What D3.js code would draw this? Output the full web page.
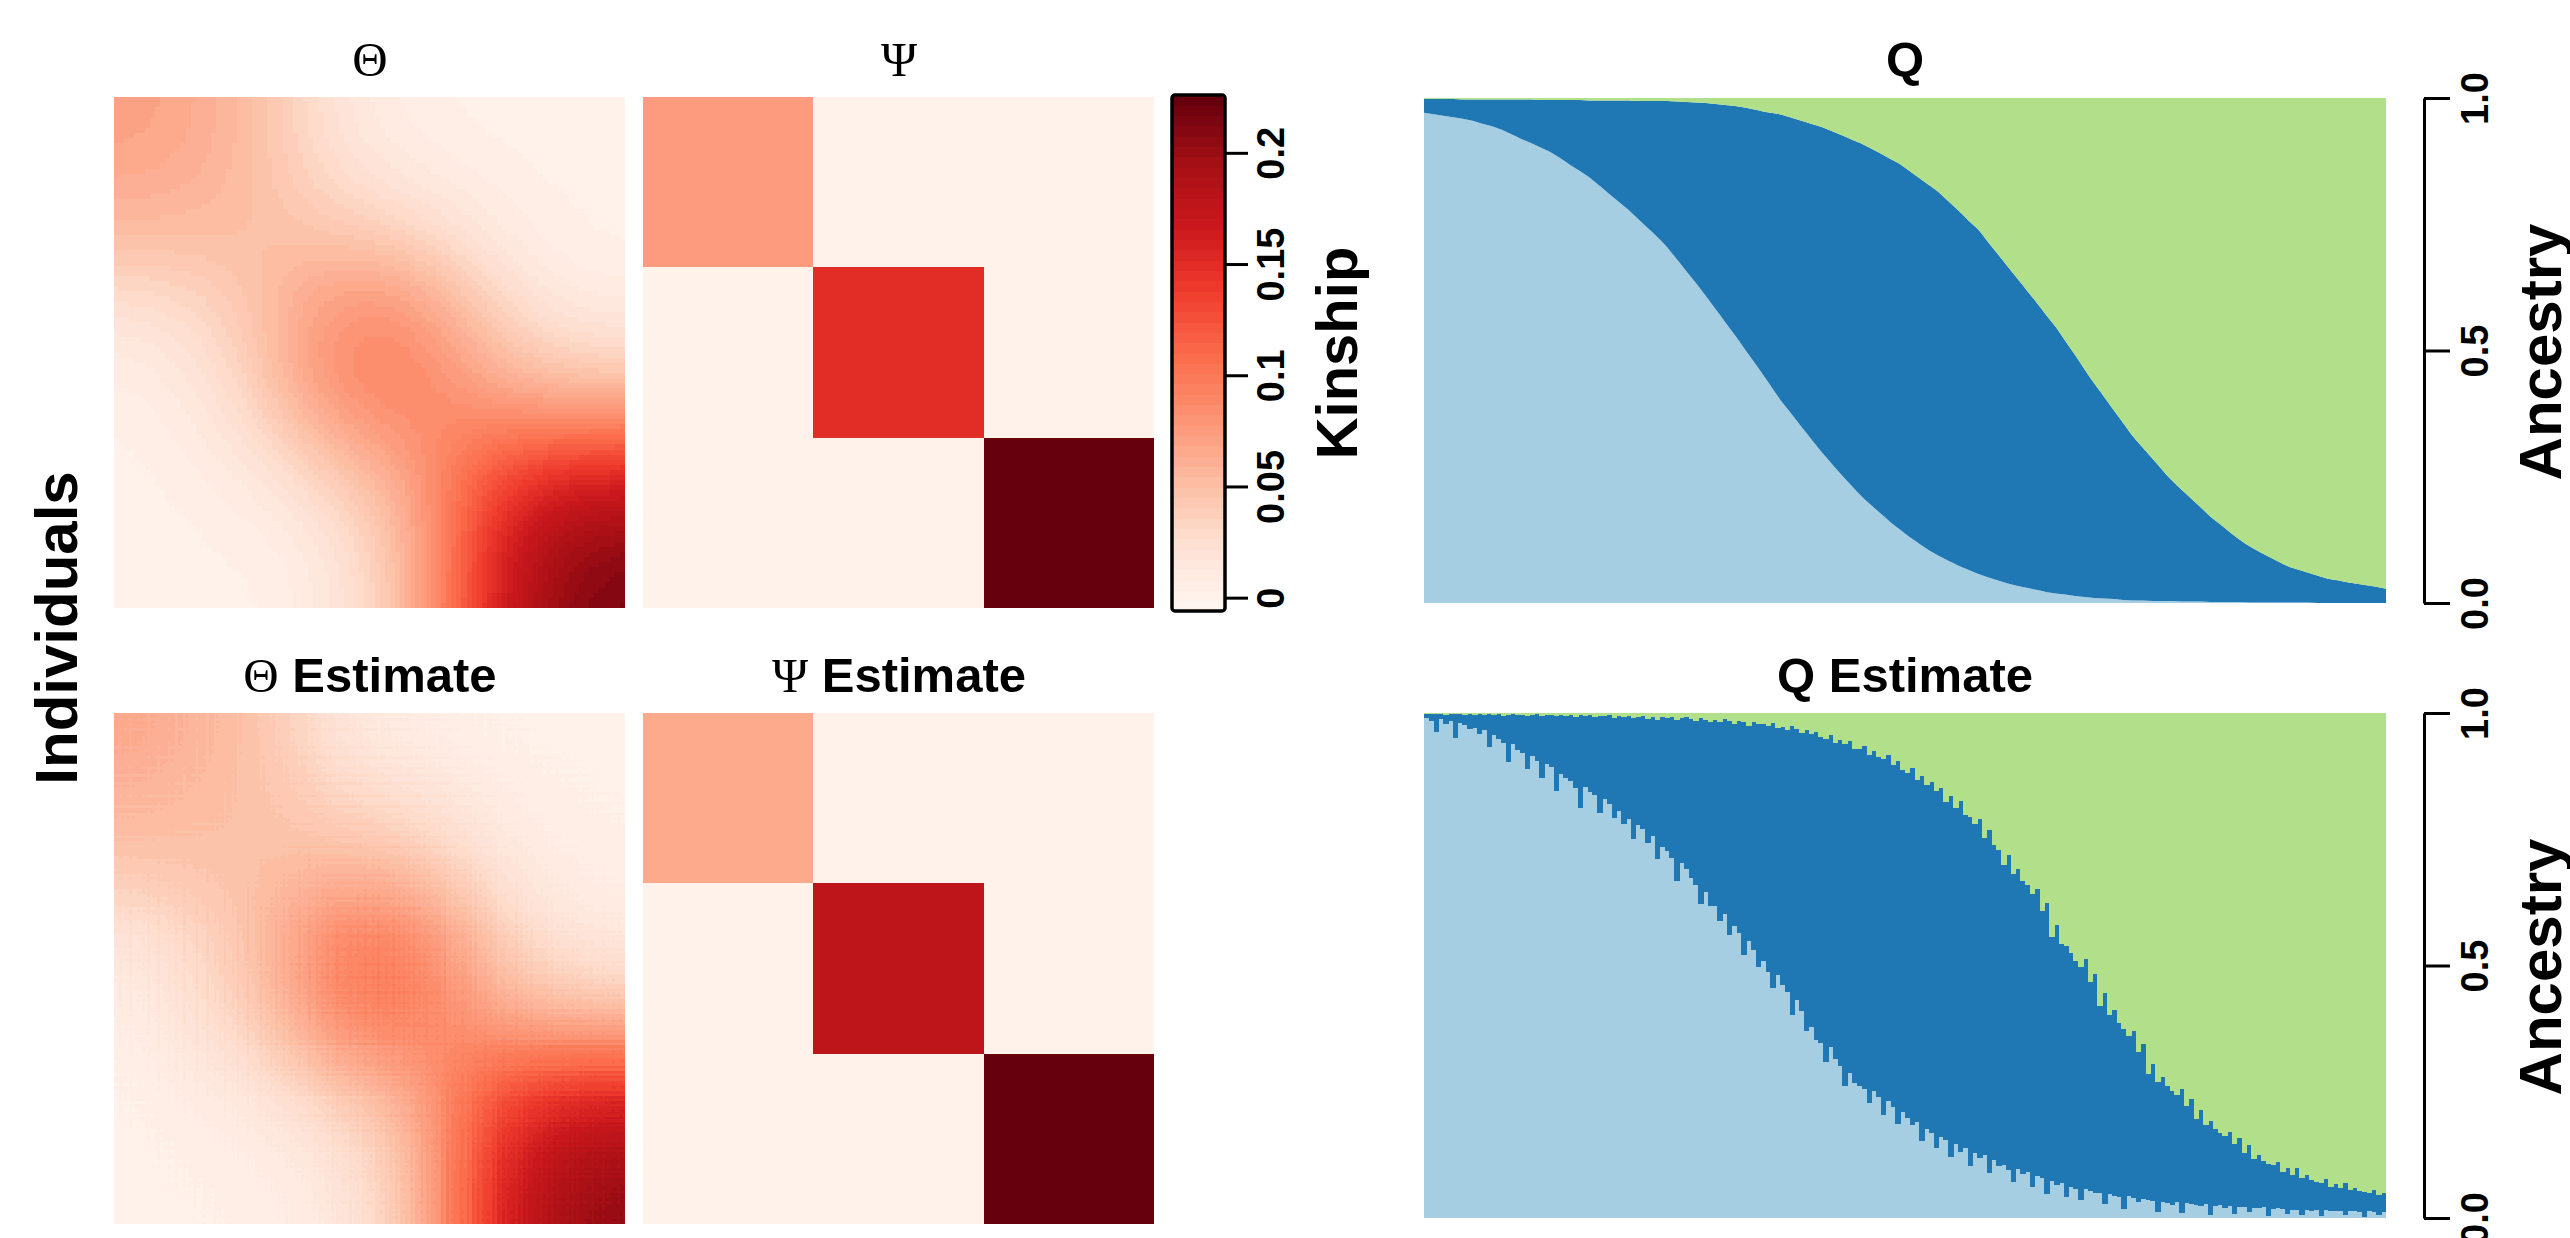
<!DOCTYPE html>
<html>
<head>
<meta charset="utf-8">
<script src="https://cdn.jsdelivr.net/npm/d3@7"></script>
<style>
body { margin: 0; background: #fff; }
text { font-family: "Liberation Sans", Arial, sans-serif; font-weight: bold; fill: #000; }
</style>
</head>
<body>
<div id="vis"></div>
<script>
var width = 2570, height = 1238;

// true admixture: top edge of ancestry 1, and of ancestry 1+2 (100 individuals)
var q1True = [0.971,0.968,0.965,0.962,0.959,0.955,0.949,0.944,0.937,0.928,
  0.919,0.911,0.902,0.893,0.881,0.868,0.856,0.843,0.827,0.811,
  0.795,0.779,0.761,0.743,0.725,0.705,0.681,0.657,0.633,0.608,
  0.582,0.556,0.530,0.503,0.476,0.449,0.421,0.394,0.370,0.345,
  0.321,0.297,0.275,0.253,0.232,0.212,0.194,0.177,0.160,0.145,
  0.130,0.117,0.104,0.093,0.083,0.074,0.066,0.058,0.051,0.045,
  0.039,0.034,0.030,0.026,0.022,0.019,0.017,0.014,0.012,0.010,
  0.009,0.008,0.006,0.005,0.005,0.004,0.004,0.004,0.003,0.003,
  0.003,0.002,0.002,0.002,0.002,0.001,0.001,0.001,0.001,0.001,
  0.001,0.001,0,0,0,0,0,0,0,0];
var q12True = [0.998,0.998,0.998,0.998,0.997,0.997,0.997,0.997,0.997,0.997,
  0.997,0.997,0.996,0.996,0.996,0.996,0.996,0.995,0.995,0.995,
  0.995,0.995,0.994,0.994,0.994,0.994,0.993,0.992,0.991,0.990,
  0.988,0.986,0.984,0.981,0.977,0.973,0.970,0.966,0.960,0.954,
  0.948,0.942,0.934,0.926,0.918,0.910,0.900,0.890,0.879,0.869,
  0.855,0.841,0.827,0.813,0.795,0.777,0.758,0.740,0.716,0.692,
  0.668,0.644,0.620,0.596,0.571,0.547,0.519,0.491,0.462,0.434,
  0.408,0.381,0.355,0.329,0.307,0.285,0.263,0.242,0.224,0.206,
  0.188,0.170,0.155,0.139,0.125,0.112,0.101,0.091,0.081,0.072,
  0.066,0.060,0.054,0.048,0.045,0.041,0.038,0.035,0.032,0.028];

// estimated admixture (200 individuals)
var q1Est = [0.991,0.985,0.962,0.988,0.979,0.984,0.951,0.980,0.976,0.968,
  0.970,0.958,0.966,0.932,0.957,0.949,0.941,0.903,0.938,0.926,
  0.921,0.889,0.914,0.905,0.872,0.899,0.893,0.846,0.880,0.871,
  0.866,0.851,0.812,0.853,0.844,0.838,0.801,0.829,0.820,0.792,
  0.806,0.781,0.790,0.751,0.778,0.770,0.742,0.756,0.711,0.735,
  0.726,0.712,0.668,0.702,0.691,0.673,0.659,0.622,0.645,0.618,
  0.617,0.588,0.601,0.560,0.579,0.565,0.521,0.549,0.530,0.497,
  0.508,0.488,0.455,0.482,0.461,0.447,0.402,0.431,0.410,0.371,
  0.378,0.352,0.347,0.309,0.338,0.314,0.301,0.262,0.287,0.268,
  0.262,0.255,0.228,0.251,0.239,0.204,0.232,0.219,0.187,0.210,
  0.199,0.184,0.191,0.152,0.176,0.168,0.139,0.161,0.154,0.121,
  0.146,0.131,0.138,0.103,0.129,0.118,0.124,0.089,0.114,0.102,
  0.104,0.096,0.071,0.098,0.087,0.091,0.062,0.084,0.079,0.048,
  0.073,0.066,0.069,0.041,0.062,0.058,0.035,0.057,0.053,0.049,
  0.050,0.027,0.047,0.044,0.041,0.018,0.043,0.039,0.031,0.037,
  0.035,0.033,0.012,0.031,0.030,0.026,0.032,0.009,0.029,0.027,
  0.026,0.024,0.027,0.006,0.023,0.025,0.019,0.024,0.008,0.022,
  0.021,0.011,0.020,0.019,0.021,0.004,0.018,0.019,0.017,0.007,
  0.016,0.015,0.005,0.016,0.014,0.015,0.003,0.015,0.013,0.014,
  0.014,0.006,0.013,0.014,0.012,0.002,0.013,0.012,0.005,0.012];
var q12Est = [0.999,0.998,0.998,0.999,0.997,0.999,0.998,0.998,0.997,0.998,
  0.997,0.998,0.996,0.998,0.997,0.998,0.995,0.997,0.998,0.996,
  0.997,0.995,0.997,0.998,0.994,0.996,0.997,0.995,0.997,0.994,
  0.996,0.993,0.996,0.995,0.997,0.992,0.995,0.994,0.996,0.991,
  0.994,0.992,0.995,0.990,0.993,0.994,0.989,0.993,0.987,0.992,
  0.991,0.993,0.986,0.990,0.992,0.988,0.984,0.990,0.987,0.983,
  0.987,0.982,0.988,0.985,0.978,0.984,0.982,0.975,0.983,0.979,
  0.978,0.975,0.980,0.970,0.973,0.966,0.974,0.969,0.960,0.966,
  0.958,0.963,0.952,0.949,0.956,0.941,0.946,0.938,0.944,0.929,
  0.929,0.935,0.917,0.924,0.913,0.908,0.916,0.897,0.904,0.888,
  0.882,0.891,0.868,0.876,0.858,0.863,0.845,0.851,0.824,0.836,
  0.812,0.826,0.799,0.794,0.781,0.790,0.752,0.768,0.738,0.729,
  0.700,0.719,0.681,0.692,0.668,0.659,0.641,0.652,0.608,0.624,
  0.556,0.581,0.543,0.538,0.525,0.509,0.498,0.512,0.468,0.483,
  0.420,0.445,0.401,0.412,0.386,0.374,0.361,0.370,0.328,0.345,
  0.286,0.304,0.270,0.279,0.262,0.251,0.243,0.255,0.221,0.235,
  0.197,0.214,0.185,0.192,0.176,0.168,0.163,0.171,0.146,0.158,
  0.128,0.144,0.117,0.125,0.112,0.106,0.104,0.111,0.091,0.099,
  0.086,0.099,0.079,0.085,0.075,0.071,0.070,0.077,0.062,0.068,
  0.060,0.070,0.055,0.059,0.054,0.051,0.050,0.056,0.045,0.049];

// intermediate population kinship (diagonal of Psi)
var psiTrue = [0.075, 0.15, 0.225];
var psiEst = [0.068, 0.179, 0.224];

var kinshipRange = [-0.006, 0.226];
var kinshipTicks = [0, 0.05, 0.1, 0.15, 0.2];
var ancestryTicks = [0, 0.5, 1];
var ancestryColors = ["#a6cee3", "#1f78b4", "#b2df8a"];

var nCol = 50;
var ramp = d3.piecewise(d3.interpolateRgb, d3.schemeReds[9]);
var color = d3.scaleQuantize()
    .domain(kinshipRange)
    .range(d3.range(nCol).map(function(k) { return ramp(k / (nCol - 1)); }));

var svg = d3.select("#vis").append("svg")
    .attr("width", width)
    .attr("height", height);

function toQ(top1, top12) {
  return top1.map(function(d, i) { return [d, top12[i] - d, 1 - top12[i]]; });
}

function kinshipMatrix(q, psi) {
  return q.map(function(a) {
    return q.map(function(b) {
      return d3.sum(psi, function(p, k) { return a[k] * b[k] * p; });
    });
  });
}

function psiMatrix(psi) {
  return psi.map(function(p, i) {
    return psi.map(function(r, j) { return i === j ? p : 0; });
  });
}

// heatmap, merging runs of equal colour within a row
function drawHeat(mat, x0, y0, size) {
  var n = mat.length;
  var band = d3.scaleBand().domain(d3.range(n)).range([0, size]);
  var runs = [];
  mat.forEach(function(row, i) {
    var start = 0;
    for (var j = 1; j <= n; j++) {
      if (j === n || color(row[j]) !== color(row[start])) {
        runs.push({i: i, j0: start, j1: j - 1, c: color(row[start])});
        start = j;
      }
    }
  });
  var g = svg.append("g")
      .attr("transform", "translate(" + x0 + "," + y0 + ")")
      .attr("shape-rendering", "crispEdges");
  g.selectAll("rect")
    .data(runs)
    .enter().append("rect")
      .attr("x", function(d) { return band(d.j0); })
      .attr("y", function(d) { return band(d.i); })
      .attr("width", function(d) {
        var w = band(d.j1) + band.bandwidth() - band(d.j0);
        return d.j1 === n - 1 ? w : w + 0.6;
      })
      .attr("height", function(d) { return d.i === n - 1 ? band.bandwidth() : band.bandwidth() + 0.6; })
      .attr("fill", function(d) { return d.c; });
}

var qTrue = toQ(q1True, q12True);
var qEst = toQ(q1Est, q12Est);

drawHeat(kinshipMatrix(qTrue, psiTrue), 114, 97, 511);
drawHeat(psiMatrix(psiTrue), 643, 97, 511);
drawHeat(kinshipMatrix(qEst, psiEst), 114, 713, 511);
drawHeat(psiMatrix(psiEst), 643, 713, 511);

// colour key
var yKey = d3.scaleLinear().domain(kinshipRange).range([611, 95]);
var edges = [kinshipRange[0]].concat(color.thresholds(), [kinshipRange[1]]);
svg.append("g").attr("shape-rendering", "crispEdges").selectAll("rect")
  .data(d3.range(nCol))
  .enter().append("rect")
    .attr("x", 1172)
    .attr("width", 53)
    .attr("y", function(k) { return yKey(edges[k + 1]); })
    .attr("height", function(k) { return yKey(edges[k]) - yKey(edges[k + 1]) + 0.5; })
    .attr("fill", function(k) { return color.range()[k]; });
svg.append("rect")
    .attr("x", 1172).attr("y", 95).attr("width", 53).attr("height", 516)
    .attr("rx", 3)
    .attr("fill", "none").attr("stroke", "#000").attr("stroke-width", 3.5);

var keyAxis = svg.append("g")
    .attr("transform", "translate(1225,0)")
    .call(d3.axisRight(yKey).tickValues(kinshipTicks).tickSize(23).tickSizeOuter(0)
      .tickFormat(function(d) { return String(d); }));
keyAxis.select(".domain").remove();
keyAxis.selectAll("line").attr("stroke", "#000").attr("stroke-width", 3);
keyAxis.selectAll("text")
    .attr("x", null).attr("dy", null)
    .attr("transform", "translate(59,0) rotate(-90)")
    .attr("text-anchor", "middle")
    .style("font-size", "38px");

svg.append("text")
    .attr("transform", "translate(1357,353) rotate(-90)")
    .attr("text-anchor", "middle")
    .style("font-size", "58px")
    .text("Kinship");

// admixture plots
var xPoint = d3.scalePoint().domain(d3.range(qTrue.length)).range([1424, 2386]);
var xBand = d3.scaleBand().domain(d3.range(qEst.length)).range([1424, 2386]);
var yTop = d3.scaleLinear().domain([0, 1]).range([603, 98]);
var yBot = d3.scaleLinear().domain([0, 1]).range([1218, 713]);
var stack = d3.stack().keys([0, 1, 2]);

var area = d3.area()
    .x(function(d, i) { return xPoint(i); })
    .y0(function(d) { return yTop(d[0]); })
    .y1(function(d) { return yTop(d[1]); })
    .curve(d3.curveMonotoneX);

svg.append("g").selectAll("path")
  .data(stack(qTrue))
  .enter().append("path")
    .attr("d", area)
    .attr("fill", function(d, k) { return ancestryColors[k]; });

svg.append("g")
    .attr("shape-rendering", "crispEdges")
  .selectAll("g")
  .data(stack(qEst))
  .enter().append("g")
    .attr("fill", function(d, k) { return ancestryColors[k]; })
  .selectAll("rect")
  .data(function(d) { return d; })
  .enter().append("rect")
    .attr("x", function(d, i) { return xBand(i); })
    .attr("width", function(d, i) { return i === qEst.length - 1 ? xBand.bandwidth() : xBand.bandwidth() + 0.6; })
    .attr("y", function(d) { return yBot(d[1]); })
    .attr("height", function(d) { return Math.max(0, yBot(d[0]) - yBot(d[1])); });

[yTop, yBot].forEach(function(y) {
  var ax = svg.append("g")
      .attr("transform", "translate(2424,0)")
      .call(d3.axisRight(y).tickValues(ancestryTicks).tickSize(26).tickSizeOuter(0)
        .tickFormat(d3.format(".1f")));
  ax.select(".domain").attr("stroke", "#000").attr("stroke-width", 3);
  ax.selectAll("line").attr("stroke", "#000").attr("stroke-width", 3);
  ax.selectAll("text")
      .attr("x", null).attr("dy", null)
      .attr("transform", "translate(64,0) rotate(-90)")
      .attr("text-anchor", "middle")
      .style("font-size", "38px");
});

[352, 967].forEach(function(cy) {
  svg.append("text")
      .attr("transform", "translate(2561," + cy + ") rotate(-90)")
      .attr("text-anchor", "middle")
      .style("font-size", "60px")
      .text("Ancestry");
});

svg.append("text")
    .attr("transform", "translate(77,628) rotate(-90)")
    .attr("text-anchor", "middle")
    .style("font-size", "60px")
    .text("Individuals");

// titles
var titles = [
  {x: 370, y: 76, sym: "\u0398", rest: ""},
  {x: 899, y: 76, sym: "\u03A8", rest: ""},
  {x: 1905, y: 76, sym: "", rest: "Q"},
  {x: 370, y: 692, sym: "\u0398", rest: " Estimate"},
  {x: 899, y: 692, sym: "\u03A8", rest: " Estimate"},
  {x: 1905, y: 692, sym: "", rest: "Q Estimate"}
];
titles.forEach(function(t) {
  var txt = svg.append("text")
      .attr("x", t.x).attr("y", t.y)
      .attr("text-anchor", "middle")
      .style("font-size", "49px");
  if (t.sym) {
    txt.append("tspan")
        .style("font-family", "'Liberation Serif', 'DejaVu Serif', serif")
        .style("font-weight", "normal")
        .text(t.sym);
  }
  if (t.rest) txt.append("tspan").text(t.rest);
});
</script>
</body>
</html>
